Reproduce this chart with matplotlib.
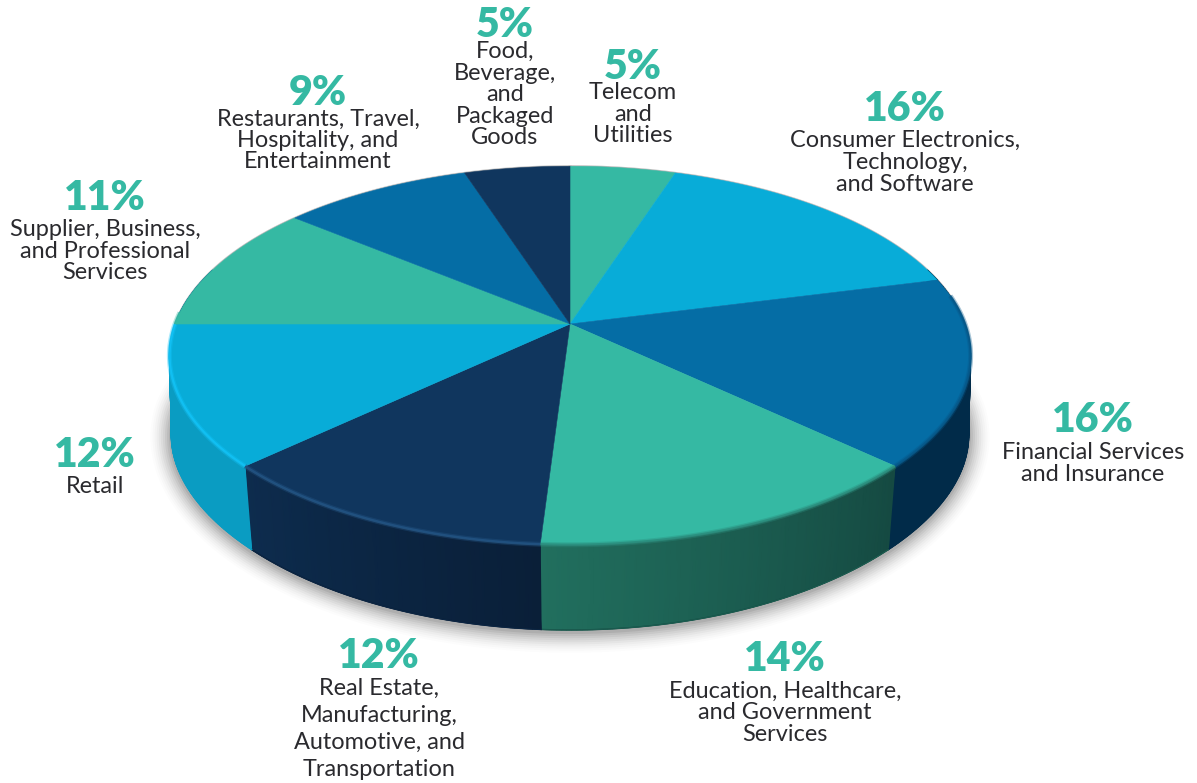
import numpy as np
import matplotlib
matplotlib.use("Agg")
import matplotlib.pyplot as plt
from matplotlib.colors import LinearSegmentedColormap
from matplotlib.patches import Polygon

categories = ["Telecom\nand\nUtilities",
              "Consumer Electronics,\nTechnology,\nand Software",
              "Financial Services\nand Insurance",
              "Education, Healthcare,\nand Government\nServices",
              "Real Estate,\nManufacturing,\nAutomotive, and\nTransportation",
              "Retail",
              "Supplier, Business,\nand Professional\nServices",
              "Restaurants, Travel,\nHospitality, and\nEntertainment",
              "Food,\nBeverage,\nand\nPackaged\nGoods"]
values = [5, 16, 16, 14, 12, 12, 11, 9, 5]

top_colors = ["#35B9A3", "#08ACD8", "#056DA5", "#35B9A3", "#10365E",
              "#08ACD8", "#35B9A3", "#056DA5", "#10365E"]
side_start = ["#1c5a50", "#003050", "#012B49", "#154A42", "#0A1F38",
              "#0A9CC2", "#0A9CC2", "#1c6a60", "#0d2a4c"]
side_end = ["#1c5a50", "#003050", "#012B49", "#216F5E", "#0D2C4E",
            "#0A9CC2", "#0A9CC2", "#1c6a60", "#0d2a4c"]
rim_colors = ["#35B9A3", "#08ACD8", "#05588A", "#2A8C7C", "#235585",
              "#12C4F8", "#35B9A3", "#056DA5", "#10365E"]

# label layout: x centre, y of percentage, y of each text line (pixels)
label_x = [633, 905, 1093, 785, 379, 95, 105, 318, 505]
pct_y = [65, 107, 418, 657, 654, 453, 196, 91, 23]
line_y = [[91, 113, 134], [139, 161, 183], [451, 473], [690, 711, 733],
          [687, 714, 741, 768], [485], [228, 250, 271], [118, 139, 160],
          [50, 72, 93, 115, 136]]

CX, CY = 570, 324
A, B, K = 395, 184, 1 / 6


def top_pt(t):
    u, v = np.sin(t), np.cos(t)
    w = 1 + K * v
    return CX + A * u / w, CY - B * v / w


def bot_pt(t):
    u, v = np.sin(t), np.cos(t)
    x = A * u / (1 + K * v) * (1 - 0.03 * np.abs(np.minimum(v, 0)))
    y = 176 * v / (1 + 0.2 * v)
    return CX + x, 410 - y


fig = plt.figure(figsize=(11.97, 7.83), dpi=100)
ax = fig.add_axes([0, 0, 1, 1])
ax.set_xlim(0, 1197)
ax.set_ylim(783, 0)
ax.axis("off")

cum = np.cumsum([0] + values) / sum(values) * 2 * np.pi
VIS_LO, VIS_HI = np.pi * 0.40, np.pi * 1.60

# soft drop shadow below the body
sh_t = np.linspace(VIS_LO, VIS_HI, 200)
sx, sy = bot_pt(sh_t)
for lw, a in zip(range(30, 1, -3), [0.012, 0.016, 0.02, 0.025, 0.03, 0.035, 0.04, 0.05, 0.06, 0.07]):
    ax.plot(sx, sy + 2, color="k", alpha=a, lw=lw, solid_capstyle="round", zorder=1)

# side wall, one smoothly shaded band per slice
for i in range(len(values)):
    lo, hi = max(cum[i], VIS_LO), min(cum[i + 1], VIS_HI)
    if lo >= hi:
        continue
    ts = np.linspace(lo, hi, 80)
    tx, ty = top_pt(ts)
    bx, by = bot_pt(ts)
    X = np.vstack([tx, bx])
    Y = np.vstack([ty, by])
    C = np.vstack([np.linspace(0, 1, 80)] * 2)
    cmap = LinearSegmentedColormap.from_list(f"s{i}", [side_start[i], side_end[i]])
    ax.pcolormesh(X, Y, C, shading="gouraud", cmap=cmap, vmin=0, vmax=1, zorder=2)
    ax.plot(bx, by, color=side_start[i], lw=1.0, zorder=2.1)
    ax.plot(bx, by, color=side_end[i], lw=0.6, alpha=0.6, zorder=2.1)

# thin outline on the far rim
ot = np.linspace(0, 2 * np.pi, 400)
ox, oy = top_pt(ot)
ax.plot(ox, oy, color="#444444", alpha=0.35, lw=1.6, zorder=2.5)

# top face
for i in range(len(values)):
    ts = np.linspace(cum[i], cum[i + 1], 80)
    x, y = top_pt(ts)
    xy = np.column_stack([np.r_[CX, x], np.r_[CY, y]])
    ax.add_patch(Polygon(xy, closed=True, facecolor=top_colors[i],
                         edgecolor=top_colors[i], lw=0.4, zorder=3))
    lo, hi = max(cum[i], np.pi * 0.45), min(cum[i + 1], np.pi * 1.52)
    if lo < hi:
        ts = np.linspace(lo, hi, 80)
        x, y = top_pt(ts)
        ax.plot(x, y, color=rim_colors[i], lw=3.6, alpha=0.35, zorder=4,
                solid_capstyle="butt")
        ax.plot(x, y, color=rim_colors[i], lw=1.8, alpha=0.8, zorder=4,
                solid_capstyle="butt")

# labels
for i, cat in enumerate(categories):
    ax.text(label_x[i], pct_y[i] + 14, f"{values[i]}%", color="#35B9A3",
            fontfamily="Lato", fontweight=800, fontsize=29.5,
            ha="center", va="baseline", zorder=5)
    for line, ly in zip(cat.split("\n"), line_y[i]):
        ax.text(label_x[i], ly + 8, line, color="#2A2A2E", fontfamily="Lato",
                fontsize=16.9, ha="center", va="baseline", zorder=5)

fig.savefig("out.png", dpi=100)
